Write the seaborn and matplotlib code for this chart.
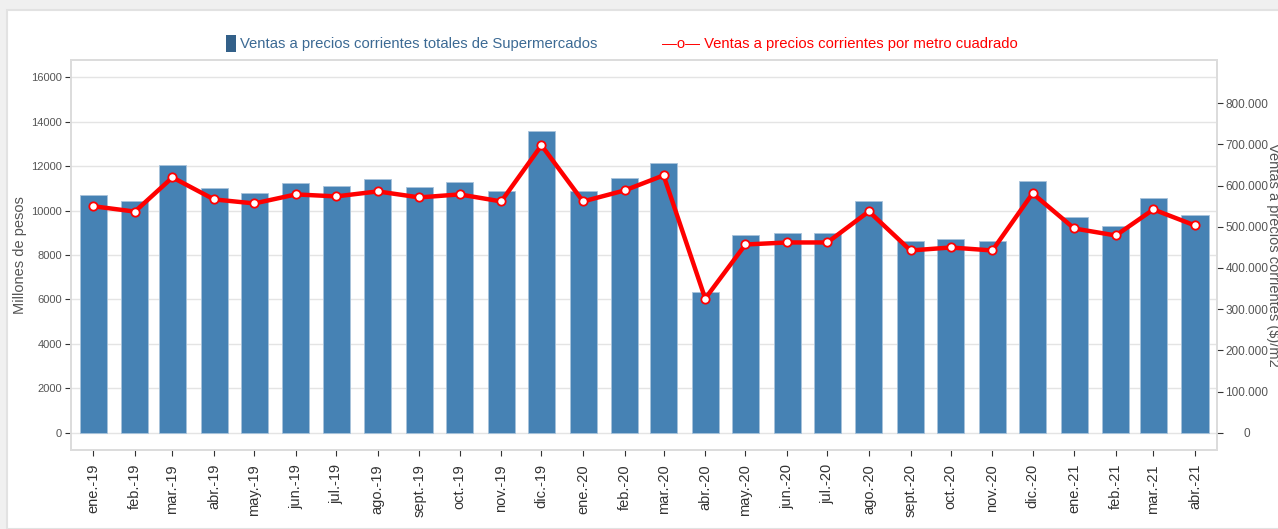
import numpy as np
import pandas as pd
import matplotlib.pyplot as plt
import matplotlib.ticker as mticker
from matplotlib.patches import Rectangle
import seaborn as sns

meses = ['ene.-19', 'feb.-19', 'mar.-19', 'abr.-19', 'may.-19', 'jun.-19', 'jul.-19',
         'ago.-19', 'sept.-19', 'oct.-19', 'nov.-19', 'dic.-19', 'ene.-20', 'feb.-20',
         'mar.-20', 'abr.-20', 'may.-20', 'jun.-20', 'jul.-20', 'ago.-20', 'sept.-20',
         'oct.-20', 'nov.-20', 'dic.-20', 'ene.-21', 'feb.-21', 'mar.-21', 'abr.-21']
fechas = pd.date_range('2019-01-01', periods=len(meses), freq='MS')

# millones de pesos
ventas_totales = [10700, 10450, 12030, 11000, 10800, 11250, 11100, 11400, 11050, 11280,
                  10900, 13600, 10900, 11450, 12150, 6350, 8880, 8970, 8970, 10450,
                  8630, 8740, 8630, 11330, 9720, 9320, 10550, 9800]
# $ por m2
ventas_m2 = [550000, 537000, 620000, 566600, 556800, 578700, 573900, 586000, 571400,
             578700, 561700, 697900, 561700, 588400, 624900, 325800, 457100, 462000,
             462000, 537400, 442600, 449800, 442600, 581200, 496000, 479000, 542200,
             503300]

df = pd.DataFrame({'dia': (fechas - fechas[0]).days, 'mes': meses,
                   'totales': ventas_totales, 'm2': ventas_m2})

sns.set_style('white')
plt.rcParams['font.family'] = ['Liberation Sans', 'DejaVu Sans']

fig = plt.figure(figsize=(12.78, 5.29), dpi=100, facecolor='#f0f0f0')
fig.patches.append(Rectangle((7 / 1278, 0), 1, 1 - 10 / 529, transform=fig.transFigure,
                             facecolor='white', edgecolor='#e2e2e2', lw=1.5, zorder=-10))

ax = fig.add_axes([71 / 1278, 1 - 450 / 529, 1146 / 1278, 390 / 529])
ax.set_facecolor('white')
sns.barplot(data=df, x='dia', y='totales', native_scale=True, width=0.72,
            color='#4682b4', saturation=1, edgecolor='#a8c3db', linewidth=0.6, ax=ax)
ax.set_ylim(-779, 16779)
ax.set_xlim(-16.6, 837.4)
ax.set_yticks(np.arange(0, 16001, 2000))
ax.yaxis.grid(True, color='#e4e4e4', lw=1)
ax.set_axisbelow(True)
ax.set_xticks(df['dia'])
ax.set_xticklabels(df['mes'], rotation=90, fontsize=10.5, color='#333333')
ax.tick_params(axis='y', labelsize=8, labelcolor='#555555', length=4, color='#333333',
               direction='out', left=True, pad=2.5)
ax.tick_params(axis='x', length=4, color='#333333', direction='out', bottom=True, pad=6)
ax.set_xlabel('')
ax.set_ylabel('Millones de pesos', fontsize=10.5, color='#555555')
ax.yaxis.set_label_coords(-0.0384, 0.5)
for s in ax.spines.values():
    s.set_color('#dcdcdc')
    s.set_linewidth(1.2)

ax2 = ax.twinx()
sns.lineplot(data=df, x='dia', y='m2', color='#ff0000', lw=3.2, marker='o',
             markersize=6, markerfacecolor='white', markeredgecolor='#ff0000',
             markeredgewidth=1.3, ax=ax2)
ax2.set_ylim(-42017, 905160)
ax2.set_yticks(np.arange(0, 800001, 100000))
ax2.yaxis.set_major_formatter(mticker.FuncFormatter(
    lambda v, p: f'{int(v):,}'.replace(',', '.')))
ax2.tick_params(axis='y', labelsize=8.5, labelcolor='#555555', length=4, color='#333333',
                direction='out', right=True, pad=17.5)
plt.setp(ax2.get_yticklabels(), ha='center')
ax2.set_ylabel('Ventas a precios corrientes ($)/m2', fontsize=10.5, color='#555555',
               rotation=270, va='bottom')
ax2.yaxis.set_label_coords(1.0428, 0.5)
for s in ax2.spines.values():
    s.set_color('#dcdcdc')
    s.set_linewidth(1.2)

# leyenda
fig.patches.append(Rectangle((226 / 1278, 1 - 52 / 529), 10 / 1278, 17 / 529,
                             transform=fig.transFigure, facecolor='#336089',
                             edgecolor='none'))
fig.text(240 / 1278, 1 - 44 / 529, 'Ventas a precios corrientes totales de Supermercados',
         fontsize=10.7, color='#3c6a94', va='center', ha='left')
fig.text(662 / 1278, 1 - 44 / 529, '\u2014o\u2014 Ventas a precios corrientes por metro cuadrado',
         fontsize=10.7, color='#ff0000', va='center', ha='left')

fig.savefig('out.png', dpi=100, facecolor=fig.get_facecolor())
